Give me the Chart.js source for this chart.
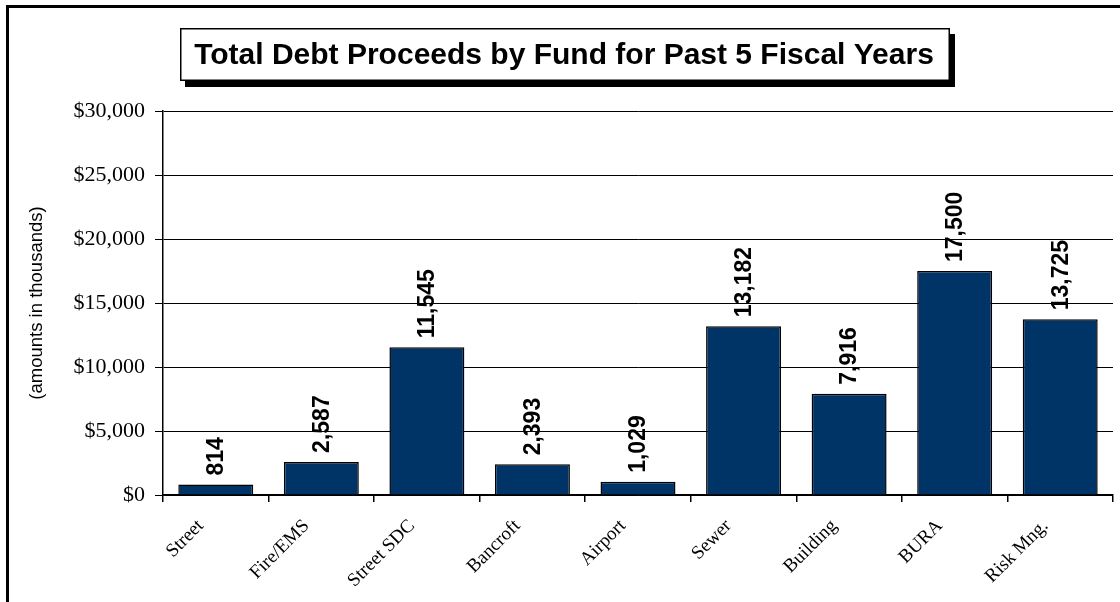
<!DOCTYPE html>
<html>
<head>
<meta charset="utf-8">
<script src="https://cdn.jsdelivr.net/npm/chart.js@4.4.1/dist/chart.umd.min.js"></script>
<style>
  html, body { margin: 0; padding: 0; background: #ffffff; }
  #wrap { width: 1120px; height: 602px; position: relative; }
</style>
</head>
<body>
<div id="wrap"><canvas id="c" width="1120" height="602"></canvas></div>
<script>
const chartTitle = "Total Debt Proceeds by Fund for Past 5 Fiscal Years";
const axisTitle = "(amounts in thousands)";
const categories = ["Street", "Fire/EMS", "Street SDC", "Bancroft", "Airport", "Sewer", "Building", "BURA", "Risk Mng."];
const proceeds = [814, 2587, 11545, 2393, 1029, 13182, 7916, 17500, 13725];
const yMin = 0;
const yMax = 30000;
const yStep = 5000;

const frame = {
  id: 'frame',
  beforeDraw(chart) {
    const ctx = chart.ctx;
    ctx.save();
    ctx.fillStyle = '#ffffff';
    ctx.fillRect(0, 0, chart.width, chart.height);
    ctx.fillStyle = '#000000';
    ctx.fillRect(6, 5, chart.width - 6, 3);
    ctx.fillRect(6, 5, 3, chart.height - 5);
    ctx.restore();
  },
  afterDraw(chart) {
    const ctx = chart.ctx;
    ctx.save();
    const bx = 180, by = 28, bw = 770, bh = 53;
    ctx.fillStyle = '#000000';
    ctx.fillRect(bx + 5, by + 6, bw, bh);
    ctx.fillStyle = '#ffffff';
    ctx.fillRect(bx, by, bw, bh);
    ctx.strokeStyle = '#000000';
    ctx.lineWidth = 1.5;
    ctx.strokeRect(bx + 0.75, by + 0.75, bw - 1.5, bh - 1.5);
    ctx.fillStyle = '#000000';
    ctx.font = 'bold 30px "Liberation Sans", Arial, sans-serif';
    ctx.textAlign = 'center';
    ctx.textBaseline = 'middle';
    ctx.fillText(chartTitle, bx + bw / 2 - 1, by + bh / 2 + 1);
    ctx.restore();
  }
};

const barLabels = {
  id: 'barLabels',
  afterDatasetsDraw(chart) {
    const ctx = chart.ctx;
    const meta = chart.getDatasetMeta(0);
    ctx.save();
    ctx.fillStyle = '#000000';
    ctx.font = 'bold 23px "Liberation Sans", Arial, sans-serif';
    ctx.textAlign = 'left';
    ctx.textBaseline = 'middle';
    meta.data.forEach((bar, i) => {
      const txt = proceeds[i].toLocaleString('en-US');
      ctx.save();
      ctx.translate(bar.x + 1, bar.y - 9);
      ctx.rotate(-Math.PI / 2);
      ctx.fillText(txt, 0, 0);
      ctx.restore();
    });
    ctx.restore();
  }
};

new Chart(document.getElementById('c'), {
  type: 'bar',
  data: {
    labels: categories,
    datasets: [{
      data: proceeds,
      backgroundColor: '#003366',
      borderColor: '#000000',
      borderWidth: 1.5,
      barPercentage: 0.71,
      categoryPercentage: 1.0
    }]
  },
  options: {
    responsive: false,
    animation: false,
    devicePixelRatio: 1,
    layout: { padding: { left: 26, top: 111, right: 7, bottom: 0 } },
    plugins: {
      legend: { display: false },
      title: { display: false },
      tooltip: { enabled: false }
    },
    scales: {
      x: {
        afterFit(scale) { scale.height = 107; },
        grid: {
          offset: true,
          drawOnChartArea: false,
          drawTicks: true,
          tickLength: 7,
          color: '#000000',
          lineWidth: 1.5
        },
        border: { display: true, color: '#000000', width: 1.5 },
        ticks: {
          color: '#000000',
          font: { family: '"Liberation Serif", "Times New Roman", serif', size: 19 },
          minRotation: 45,
          maxRotation: 45,
          autoSkip: false,
          labelOffset: -15,
          padding: 13
        }
      },
      y: {
        min: yMin,
        max: yMax,
        afterFit(scale) { scale.width = 137; },
        grid: {
          color: '#000000',
          lineWidth: 1,
          drawTicks: true,
          tickLength: 8
        },
        border: { display: true, color: '#000000', width: 1.5 },
        ticks: {
          stepSize: yStep,
          color: '#000000',
          padding: 10,
          font: { family: '"Liberation Serif", "Times New Roman", serif', size: 22 },
          callback: (v) => '$' + Number(v).toLocaleString('en-US')
        },
        title: {
          display: true,
          text: axisTitle,
          color: '#000000',
          font: { family: '"Liberation Sans", Arial, sans-serif', size: 18.5 },
          padding: { top: 0, bottom: 0 }
        }
      }
    }
  },
  plugins: [frame, barLabels]
});
</script>
</body>
</html>
